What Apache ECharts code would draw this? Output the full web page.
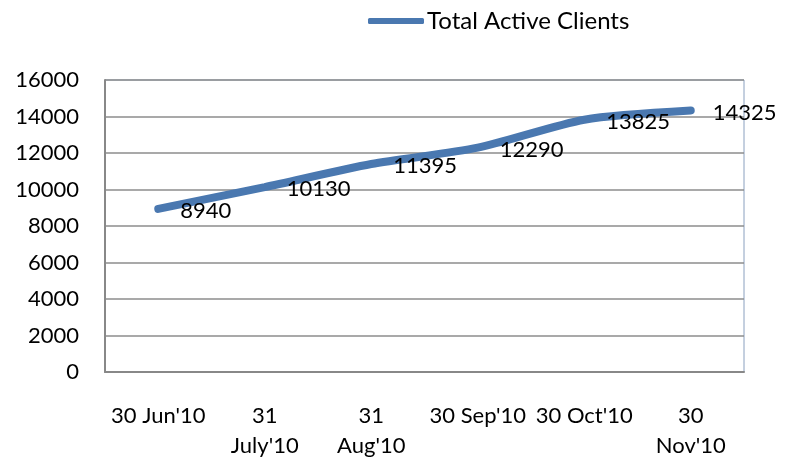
<!DOCTYPE html>
<html><head><meta charset="utf-8">
<script src="https://cdn.jsdelivr.net/npm/echarts@6/dist/echarts.min.js"></script>
<style>html,body{margin:0;padding:0;background:#fff}#c{width:786px;height:465px}</style>
</head><body><div id="c"></div>
<script>
const categories = ["30 Jun'10", "31\nJuly'10", "31\nAug'10", "30 Sep'10", "30 Oct'10", "30\nNov'10"];
const seriesName = "Total Active Clients";
const values = [8940, 10130, 11395, 12290, 13825, 14325];
const FONT = 'Lato';
const chart = echarts.init(document.getElementById('c'));
chart.setOption({
  animation: false,
  textStyle: {fontFamily: FONT},
  legend: {
    left: 363, top: 4, itemWidth: 56, itemHeight: 6, itemGap: 0,
    icon: 'roundRect',
    textStyle: {fontFamily: FONT, fontSize: 24, color: '#000', padding: [0,0,0,-2]},
    data: [seriesName]
  },
  grid: {left: 105, right: 42, top: 80, bottom: 93, show: true, borderColor: '#8aa0bf', borderWidth: 1},
  xAxis: {
    type: 'category', data: categories, boundaryGap: true,
    axisLine: {show: true, lineStyle: {color: '#888', width: 2}},
    axisTick: {show: false},
    axisLabel: {color: '#000', fontSize: 22, fontFamily: FONT, margin: 29, lineHeight: 30, interval: 0}
  },
  yAxis: {
    type: 'value', min: 0, max: 16000, interval: 2000,
    axisLine: {show: true, lineStyle: {color: '#888', width: 2}},
    axisTick: {show: false},
    splitLine: {lineStyle: {color: '#8c8c8c', width: 1.5}},
    axisLabel: {color: '#000', fontSize: 22, fontFamily: FONT, margin: 26, formatter: v => String(v)}
  },
  series: [{
    name: seriesName, type: 'line', data: values, smooth: 0.25,
    symbol: 'circle', symbolSize: 2, showSymbol: true,
    itemStyle: {color: '#4a78b0'},
    lineStyle: {color: '#4a78b0', width: 8, cap: 'round'},
    label: {show: true, position: 'right', distance: 21, offset: [0, 2], color: '#000', fontSize: 22, fontFamily: FONT}
  }]
});
</script></body></html>
